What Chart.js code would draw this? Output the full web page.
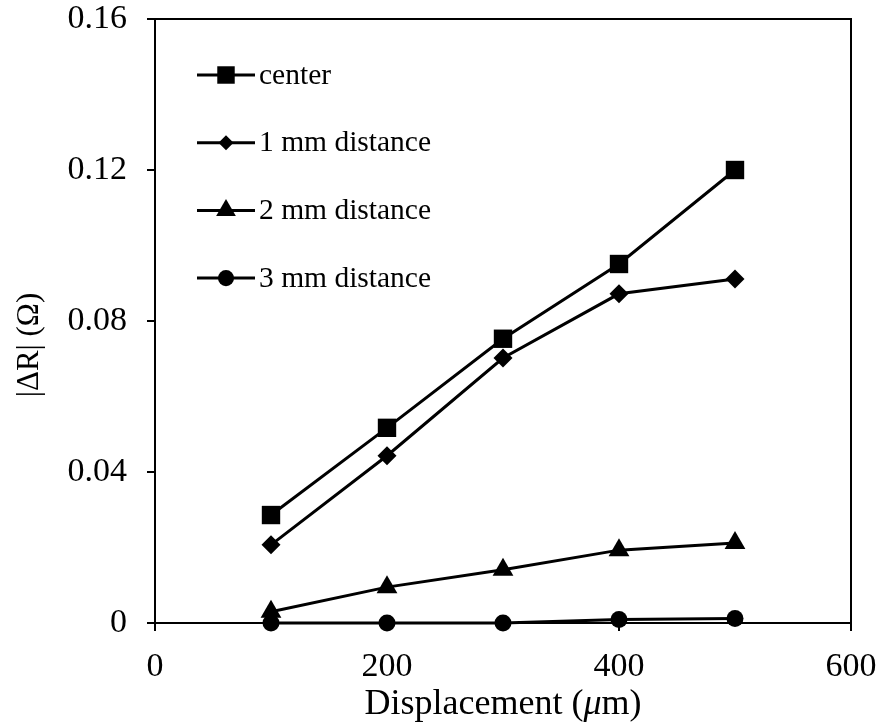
<!DOCTYPE html>
<html>
<head>
<meta charset="utf-8">
<script src="https://cdn.jsdelivr.net/npm/chart.js@4"></script>
<style>
  html, body { margin: 0; padding: 0; background: #fff; }
  #wrap { width: 880px; height: 726px; }
</style>
</head>
<body>
<div id="wrap"><canvas id="chart" width="880" height="726"></canvas></div>
<script>
// Displacement (um)
const displacement = [100, 200, 300, 400, 500];

// |dR| (ohm) per distance from the center
const centerVals = [0.0286, 0.0517, 0.0753, 0.0951, 0.1200];
const mm1Vals = [0.0207, 0.0443, 0.0702, 0.0872, 0.0911];
const mm2Vals = [0.0030, 0.0095, 0.0141, 0.0193, 0.0212];
const mm3Vals = [0.0000, 0.0000, 0.0000, 0.0009, 0.0012];

const seriesNames = ['center', '1 mm distance', '2 mm distance', '3 mm distance'];
const yTicks = [0, 0.04, 0.08, 0.12, 0.16];
const xTicks = [0, 200, 400, 600];

const FONT = "'Liberation Serif', 'Times New Roman', serif";

function serie(label, vals, style, radius) {
    return {
        label: label,
        data: displacement.map((x, i) => ({ x: x, y: vals[i] })),
        borderColor: '#000',
        backgroundColor: '#000',
        borderWidth: 3,
        pointStyle: style,
        pointRadius: radius,
        pointHoverRadius: radius,
        pointBorderWidth: 0,
        tension: 0,
        clip: false
    };
}

// moldura + legenda + títulos dos eixos
const extras = {
    id: 'extras',
    afterDraw(chart) {
        const { ctx, chartArea: a } = chart;
        ctx.save();
        ctx.strokeStyle = '#000';
        ctx.lineWidth = 2;
        ctx.strokeRect(a.left, a.top, a.right - a.left, a.bottom - a.top);

        // legenda dentro do gráfico
        const lx = a.left + 42;
        chart.data.datasets.forEach((ds, i) => {
            const y = a.top + 56 + i * 67.7;
            ctx.strokeStyle = '#000';
            ctx.fillStyle = '#000';
            ctx.lineWidth = 3;
            ctx.beginPath();
            ctx.moveTo(lx, y);
            ctx.lineTo(lx + 58, y);
            ctx.stroke();
            const r = ds.pointStyle === 'rectRot' ? 7.5 : ds.pointRadius * 0.95;
            Chart.helpers.drawPoint(ctx, { pointStyle: ds.pointStyle, radius: r, rotation: 0, borderWidth: 0 }, lx + 29, y);
            ctx.font = '29.5px ' + FONT;
            ctx.textBaseline = 'middle';
            ctx.textAlign = 'left';
            ctx.fillText(ds.label, lx + 62, y + 1);
        });

        // título do eixo x com µ em itálico
        ctx.fillStyle = '#000';
        ctx.textBaseline = 'alphabetic';
        const parts = [['Displacement (', ''], ['\u03bc', 'italic '], ['m)', '']];
        let w = 0;
        parts.forEach(p => { ctx.font = p[1] + '36px ' + FONT; w += ctx.measureText(p[0]).width; });
        let x = (a.left + a.right) / 2 - w / 2;
        const by = 714;
        parts.forEach(p => {
            ctx.font = p[1] + '36px ' + FONT;
            ctx.textAlign = 'left';
            ctx.fillText(p[0], x, by);
            x += ctx.measureText(p[0]).width;
        });

        // título do eixo y
        ctx.translate(30, a.top + 326);
        ctx.rotate(-Math.PI / 2);
        ctx.font = '31px ' + FONT;
        ctx.textAlign = 'center';
        ctx.textBaseline = 'middle';
        ctx.fillText('|\u0394R| (\u03a9)', 0, 0);
        ctx.restore();
    }
};

new Chart(document.getElementById('chart').getContext('2d'), {
    type: 'line',
    data: {
        datasets: [
            serie(seriesNames[0], centerVals, 'rect', 13),
            serie(seriesNames[1], mm1Vals, 'rectRot', 9.5),
            serie(seriesNames[2], mm2Vals, 'triangle', 12),
            serie(seriesNames[3], mm3Vals, 'circle', 8.5)
        ]
    },
    options: {
        responsive: false,
        animation: false,
        layout: { padding: { top: 19, right: 29, left: 0, bottom: 0 } },
        scales: {
            x: {
                type: 'linear',
                min: 0,
                max: 600,
                afterBuildTicks: s => { s.ticks = xTicks.map(v => ({ value: v })); },
                afterFit: s => { s.height = 103; s.paddingLeft = 0; s.paddingRight = 0; },
                grid: { drawOnChartArea: false, drawTicks: true, tickLength: 8, color: '#000', lineWidth: 2 },
                border: { display: true, color: '#000', width: 2 },
                ticks: { color: '#000', font: { family: FONT, size: 34 }, padding: 16, maxRotation: 0 }
            },
            y: {
                type: 'linear',
                min: 0,
                max: 0.16,
                afterBuildTicks: s => { s.ticks = yTicks.map(v => ({ value: v })); },
                afterFit: s => { s.width = 155; s.paddingTop = 0; s.paddingBottom = 0; },
                grid: { drawOnChartArea: false, drawTicks: true, tickLength: 8, color: '#000', lineWidth: 2 },
                border: { display: true, color: '#000', width: 2 },
                ticks: {
                    color: '#000',
                    font: { family: FONT, size: 34 },
                    padding: 20,
                    callback: v => v === 0 ? '0' : v.toFixed(2)
                }
            }
        },
        plugins: {
            legend: { display: false },
            tooltip: { enabled: false }
        }
    },
    plugins: [extras]
});
</script>
</body>
</html>
